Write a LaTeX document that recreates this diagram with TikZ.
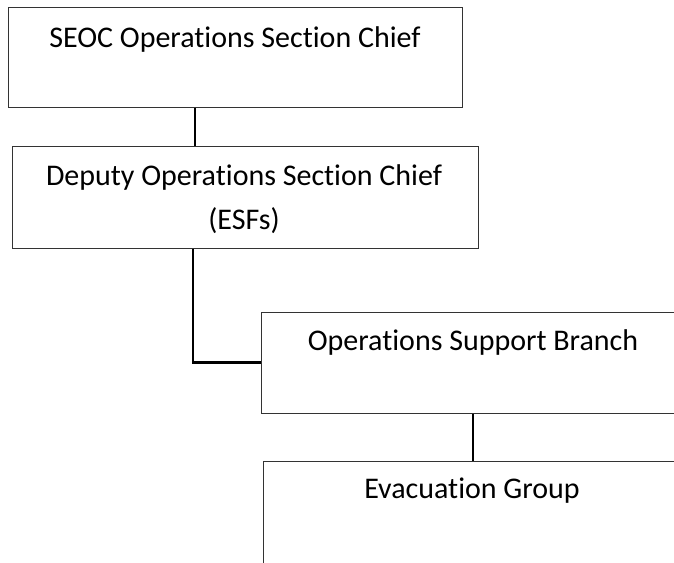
\documentclass[tikz,border=0pt]{standalone}
\usepackage{fontspec}
\setmainfont{Carlito}[RawFeature=-liga]
\usepackage{tikz}

\tikzset{
    box/.style = {draw=black!80, line width=0.5pt, rectangle, inner sep=0pt},
    txt/.style = {anchor=base, align=center, inner sep=0pt,
                  font=\fontsize{15}{22}\selectfont},
    link/.style = {draw=black, line width=1.1pt}
}

\begin{document}
\begin{tikzpicture}[x=0.5pt, y=-0.5pt]
        \useasboundingbox (0,0) rectangle (674,562);
        \clip (0,0) rectangle (674,562);
        \node [box, minimum width=227pt, minimum height=50pt] (seoc) at (235,57) {};
        \node [box, minimum width=233pt, minimum height=51pt] (deputy) at (245,197) {};
        \node [box, minimum width=212pt, minimum height=50.5pt] (opsup) at (473,362.5) {};
        \node [box, minimum width=209pt, minimum height=52pt] (evac) at (472,513) {};
        \node [txt] (seoctxt) at (235,47) {SEOC Operations Section Chief};
        \node [txt] (deputytxt) at (244,229) {Deputy Operations Section Chief\\(ESFs)};
        \node [txt] (opsuptxt) at (473,350) {Operations Support Branch};
        \node [txt] (evactxt) at (472,498) {Evacuation Group};
        \coordinate (x1) at (195,0);
        \coordinate (x2) at (193,0);
        \draw [link] (seoc.south -| x1) -- (deputy.north -| x1);
        \draw [link] (deputy.south -| x2) |- (opsup.west);
        \draw [link] (opsup.south) -- (evac.north -| opsup.south);
    \end{tikzpicture}
\end{document}
